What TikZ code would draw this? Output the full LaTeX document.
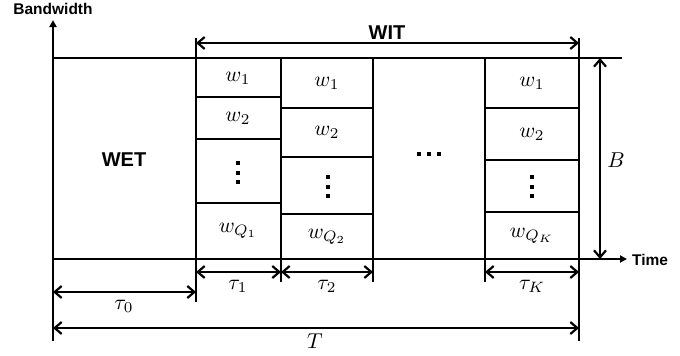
\documentclass[tikz,border=0pt]{standalone}
\usepackage{fontspec}
\setsansfont{Liberation Sans}
\usetikzlibrary{arrows.meta}
\newcommand{\mybigmath}[1]{\scalebox{2.15}{$#1$}}
\begin{document}
\begin{tikzpicture}[x=1pt,y=-1pt, line width=2.2pt,
  lbl/.style={font=\sffamily\bfseries\fontsize{20}{24}\selectfont, inner sep=0pt},
  axl/.style={font=\sffamily\bfseries\fontsize{15.5}{18}\selectfont, inner sep=0pt},
  mth/.style={inner sep=0pt},
  dimarr/.style={{Straight Barb[length=7pt,width=12pt]}-{Straight Barb[length=7pt,width=12pt]}},
  axarr/.style={-{Triangle[length=7pt,width=7pt]}},
  dotsq/.style={fill, minimum size=4pt, inner sep=0pt}]
\useasboundingbox (0,0) rectangle (680,356);

% key coordinates
\coordinate (ybot) at (53,341);
\coordinate (ytop) at (53,20);
\coordinate (tl) at (53,58);
\coordinate (tr) at (622,58);
\coordinate (o) at (53,259);
\coordinate (tend) at (627,259);

% axes
\draw[axarr] (ybot) -- (ytop);
\draw[axarr] (o) -- (tend);
\draw (tl) -- (tr);
\node[axl] (bw) at (53,9) {Bandwidth};
\node[axl, anchor=west] (time) at (631,260) {Time};

% column boundaries
\coordinate (c1t) at (196,38);  \coordinate (c1b) at (196,302);
\coordinate (c2t) at (281,58);  \coordinate (c2b) at (281,282);
\coordinate (c3t) at (373,58);  \coordinate (c3b) at (373,282);
\coordinate (c4t) at (485,58);  \coordinate (c4b) at (485,282);
\coordinate (c5t) at (579,38);  \coordinate (c5b) at (579,341);
\draw (c1t) -- (c1b);
\draw (c2t) -- (c2b);
\draw (c3t) -- (c3b);
\draw (c4t) -- (c4b);
\draw (c5t) -- (c5b);

% cell separators
\foreach \y in {97,139,203} \draw (196,\y) -- (281,\y);
\foreach \y in {108,157,214} \draw (281,\y) -- (373,\y);
\foreach \y in {108,160,212} \draw (485,\y) -- (579,\y);

% cell labels
\node[mth] (a1) at (238,78)  {\mybigmath{w_1}};
\node[mth] (a2) at (238,118) {\mybigmath{w_2}};
\node[mth] (aq) at (238,231) {\mybigmath{w_{Q_1}}};
\node[mth] (b1) at (327,83)  {\mybigmath{w_1}};
\node[mth] (b2) at (327,132) {\mybigmath{w_2}};
\node[mth] (bq) at (327,237) {\mybigmath{w_{Q_2}}};
\node[mth] (k1) at (532,83)  {\mybigmath{w_1}};
\node[mth] (k2) at (532,134) {\mybigmath{w_2}};
\node[mth] (kq) at (532,236) {\mybigmath{w_{Q_K}}};

% vertical dots
\foreach \y in {163,172.5,182} \node[dotsq] at (238,\y) {};
\foreach \y in {177,186.5,196} \node[dotsq] at (328,\y) {};
\foreach \y in {177,186.5,196} \node[dotsq] at (532,\y) {};
% horizontal dots
\foreach \x in {419,429,439} \node[dotsq] at (\x,154) {};

% region labels
\node[lbl] (wet) at (124,160) {WET};
\node[lbl] (wit) at (387,33) {WIT};

% dimension arrows
\coordinate (witl) at (196,43); \coordinate (witr) at (579,43);
\draw[dimarr] (witl) -- (witr);
\coordinate (bt) at (600,58); \coordinate (bb) at (600,259);
\draw[dimarr] (bt) -- (bb);
\node[mth] (blab) at (616,160) {\mybigmath{B}};

\coordinate (t0l) at (53,292); \coordinate (t0r) at (196,292);
\draw[dimarr] (t0l) -- (t0r);
\node[mth] (tau0) at (124,306) {\mybigmath{\tau_0}};

\coordinate (t1l) at (196,272); \coordinate (t1r) at (281,272);
\draw[dimarr] (t1l) -- (t1r);
\node[mth] (tau1) at (238,286) {\mybigmath{\tau_1}};

\coordinate (t2l) at (281,272); \coordinate (t2r) at (373,272);
\draw[dimarr] (t2l) -- (t2r);
\node[mth] (tau2) at (327,286) {\mybigmath{\tau_2}};

\coordinate (tkl) at (485,272); \coordinate (tkr) at (579,272);
\draw[dimarr] (tkl) -- (tkr);
\node[mth] (tauk) at (532,286) {\mybigmath{\tau_K}};

\coordinate (Tl) at (53,328); \coordinate (Tr) at (579,328);
\draw[dimarr] (Tl) -- (Tr);
\node[mth] (Tlab) at (315,341) {\mybigmath{T}};
\end{tikzpicture}
\end{document}
